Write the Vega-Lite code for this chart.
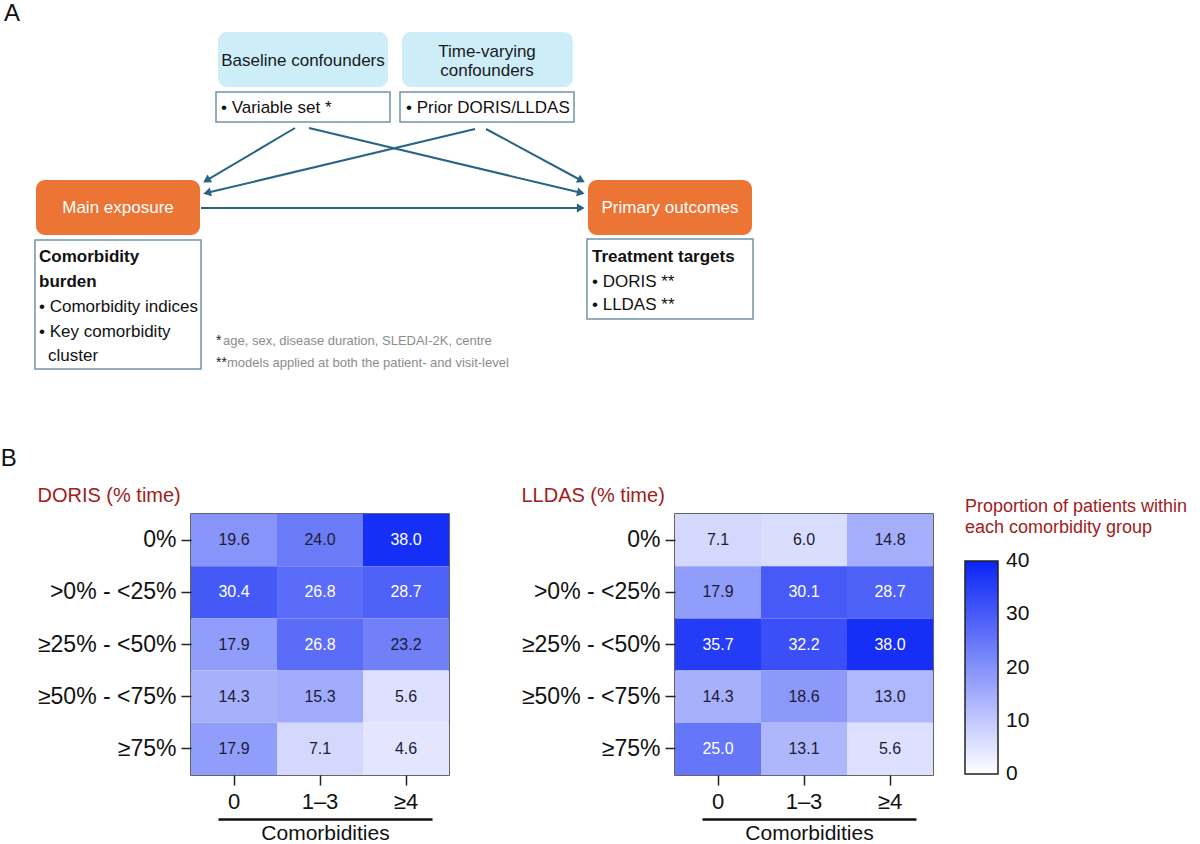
{
  "$schema": "https://vega.github.io/schema/vega-lite/v6.json",
  "padding": 0,
  "background": "white",
  "config": {
    "font": "Liberation Sans",
    "view": {"stroke": null},
    "title": {"fontWeight": "normal"}
  },
  "datasets": {
    "boxes": [
      {"id": "bc", "kind": "blue", "x": 217, "x2": 387, "y": 32, "y2": 87},
      {"id": "tv", "kind": "blue", "x": 401, "x2": 572, "y": 32, "y2": 87},
      {"id": "vs", "kind": "white", "x": 215, "x2": 389, "y": 92, "y2": 122},
      {"id": "pr", "kind": "white", "x": 399, "x2": 573, "y": 92, "y2": 122},
      {"id": "me", "kind": "orange", "x": 35, "x2": 199, "y": 180, "y2": 235},
      {"id": "po", "kind": "orange", "x": 587, "x2": 751, "y": 180, "y2": 235},
      {"id": "cb", "kind": "white", "x": 34, "x2": 200, "y": 240, "y2": 369},
      {"id": "tt", "kind": "white", "x": 586, "x2": 752, "y": 239, "y2": 319}
    ],
    "edges": [
      {"id": "e1", "x": 294, "y": 128, "hx": 205.5, "hy": 180.4},
      {"id": "e2", "x": 308, "y": 128, "hx": 579.9, "hy": 192.8},
      {"id": "e3", "x": 474, "y": 129, "hx": 206.1, "hy": 192.8},
      {"id": "e4", "x": 485, "y": 129, "hx": 580.4, "hy": 180.5},
      {"id": "e5", "x": 200, "y": 208, "hx": 579.8, "hy": 208}
    ],
    "labels": [
      {"kind": "center", "text": "Baseline confounders", "x": 302, "y": 61},
      {"kind": "center", "text": "Time-varying", "x": 486, "y": 52},
      {"kind": "center", "text": "confounders", "x": 486, "y": 71},
      {"kind": "white", "text": "Main exposure", "x": 117, "y": 208},
      {"kind": "white", "text": "Primary outcomes", "x": 669, "y": 208},
      {"kind": "left", "text": "• Variable set *", "x": 220, "y": 108},
      {"kind": "left", "text": "• Prior DORIS/LLDAS", "x": 405, "y": 108},
      {"kind": "bold", "text": "Comorbidity", "x": 38, "y": 257},
      {"kind": "bold", "text": "burden", "x": 38, "y": 282},
      {"kind": "left", "text": "• Comorbidity indices", "x": 38, "y": 307},
      {"kind": "left", "text": "• Key comorbidity", "x": 38, "y": 332},
      {"kind": "left", "text": "cluster", "x": 47, "y": 356},
      {"kind": "bold", "text": "Treatment targets", "x": 591, "y": 257},
      {"kind": "left", "text": "• DORIS **", "x": 591, "y": 282},
      {"kind": "left", "text": "• LLDAS **", "x": 591, "y": 305},
      {"kind": "star", "text": "*", "x": 215, "y": 341},
      {"kind": "note", "text": "age, sex, disease duration, SLEDAI-2K, centre", "x": 222, "y": 341},
      {"kind": "star", "text": "**", "x": 215, "y": 363},
      {"kind": "note", "text": "models applied at both the patient- and visit-level", "x": 226, "y": 363},
      {"kind": "panel", "text": "A", "x": 3, "y": 2}
    ],
    "heat": [
      {"panel": "DORIS", "cat": "0%", "comorb": "0", "value": 19.6},
      {"panel": "DORIS", "cat": "0%", "comorb": "1–3", "value": 24.0},
      {"panel": "DORIS", "cat": "0%", "comorb": "≥4", "value": 38.0},
      {"panel": "DORIS", "cat": ">0% - <25%", "comorb": "0", "value": 30.4},
      {"panel": "DORIS", "cat": ">0% - <25%", "comorb": "1–3", "value": 26.8},
      {"panel": "DORIS", "cat": ">0% - <25%", "comorb": "≥4", "value": 28.7},
      {"panel": "DORIS", "cat": "≥25% - <50%", "comorb": "0", "value": 17.9},
      {"panel": "DORIS", "cat": "≥25% - <50%", "comorb": "1–3", "value": 26.8},
      {"panel": "DORIS", "cat": "≥25% - <50%", "comorb": "≥4", "value": 23.2},
      {"panel": "DORIS", "cat": "≥50% - <75%", "comorb": "0", "value": 14.3},
      {"panel": "DORIS", "cat": "≥50% - <75%", "comorb": "1–3", "value": 15.3},
      {"panel": "DORIS", "cat": "≥50% - <75%", "comorb": "≥4", "value": 5.6},
      {"panel": "DORIS", "cat": "≥75%", "comorb": "0", "value": 17.9},
      {"panel": "DORIS", "cat": "≥75%", "comorb": "1–3", "value": 7.1},
      {"panel": "DORIS", "cat": "≥75%", "comorb": "≥4", "value": 4.6},
      {"panel": "LLDAS", "cat": "0%", "comorb": "0", "value": 7.1},
      {"panel": "LLDAS", "cat": "0%", "comorb": "1–3", "value": 6.0},
      {"panel": "LLDAS", "cat": "0%", "comorb": "≥4", "value": 14.8},
      {"panel": "LLDAS", "cat": ">0% - <25%", "comorb": "0", "value": 17.9},
      {"panel": "LLDAS", "cat": ">0% - <25%", "comorb": "1–3", "value": 30.1},
      {"panel": "LLDAS", "cat": ">0% - <25%", "comorb": "≥4", "value": 28.7},
      {"panel": "LLDAS", "cat": "≥25% - <50%", "comorb": "0", "value": 35.7},
      {"panel": "LLDAS", "cat": "≥25% - <50%", "comorb": "1–3", "value": 32.2},
      {"panel": "LLDAS", "cat": "≥25% - <50%", "comorb": "≥4", "value": 38.0},
      {"panel": "LLDAS", "cat": "≥50% - <75%", "comorb": "0", "value": 14.3},
      {"panel": "LLDAS", "cat": "≥50% - <75%", "comorb": "1–3", "value": 18.6},
      {"panel": "LLDAS", "cat": "≥50% - <75%", "comorb": "≥4", "value": 13.0},
      {"panel": "LLDAS", "cat": "≥75%", "comorb": "0", "value": 25.0},
      {"panel": "LLDAS", "cat": "≥75%", "comorb": "1–3", "value": 13.1},
      {"panel": "LLDAS", "cat": "≥75%", "comorb": "≥4", "value": 5.6}
    ]
  },
  "spacing": 7,
  "resolve": {"scale": {"color": "independent"}, "legend": {"color": "independent"}},
  "vconcat": [
    {
      "width": 1010,
      "height": 440,
      "view": {"stroke": null},
      "encoding": {
        "x": {"field": "x", "type": "quantitative", "scale": {"domain": [190, 1200], "nice": false, "zero": false}, "axis": null},
        "y": {"field": "y", "type": "quantitative", "scale": {"domain": [0, 440], "nice": false, "zero": false, "reverse": true}, "axis": null}
      },
      "layer": [
        {
          "data": {"name": "boxes"},
          "transform": [{"filter": "datum.kind == 'blue'"}],
          "mark": {"type": "rect", "fill": "#cdedf9", "cornerRadius": 9},
          "encoding": {"x2": {"field": "x2"}, "y2": {"field": "y2"}}
        },
        {
          "data": {"name": "boxes"},
          "transform": [{"filter": "datum.kind == 'orange'"}],
          "mark": {"type": "rect", "fill": "#ec7434", "cornerRadius": 9},
          "encoding": {"x2": {"field": "x2"}, "y2": {"field": "y2"}}
        },
        {
          "data": {"name": "boxes"},
          "transform": [{"filter": "datum.kind == 'white'"}],
          "mark": {"type": "rect", "fill": "white", "stroke": "#7194a8", "strokeWidth": 1.5},
          "encoding": {"x2": {"field": "x2"}, "y2": {"field": "y2"}}
        },
        {
          "data": {"name": "edges"},
          "mark": {"type": "rule", "color": "#2a6485", "strokeWidth": 2},
          "encoding": {"x2": {"field": "hx"}, "y2": {"field": "hy"}}
        },
        {
          "data": {"name": "edges"},
          "transform": [{"filter": "datum.id == 'e1'"}],
          "mark": {"type": "point", "shape": "triangle-up", "filled": true, "opacity": 1, "size": 81, "color": "#2a6485", "angle": 239.4},
          "encoding": {"x": {"field": "hx", "type": "quantitative"}, "y": {"field": "hy", "type": "quantitative"}}
        },
        {
          "data": {"name": "edges"},
          "transform": [{"filter": "datum.id == 'e2'"}],
          "mark": {"type": "point", "shape": "triangle-up", "filled": true, "opacity": 1, "size": 81, "color": "#2a6485", "angle": 103.4},
          "encoding": {"x": {"field": "hx", "type": "quantitative"}, "y": {"field": "hy", "type": "quantitative"}}
        },
        {
          "data": {"name": "edges"},
          "transform": [{"filter": "datum.id == 'e3'"}],
          "mark": {"type": "point", "shape": "triangle-up", "filled": true, "opacity": 1, "size": 81, "color": "#2a6485", "angle": 256.6},
          "encoding": {"x": {"field": "hx", "type": "quantitative"}, "y": {"field": "hy", "type": "quantitative"}}
        },
        {
          "data": {"name": "edges"},
          "transform": [{"filter": "datum.id == 'e4'"}],
          "mark": {"type": "point", "shape": "triangle-up", "filled": true, "opacity": 1, "size": 81, "color": "#2a6485", "angle": 118.4},
          "encoding": {"x": {"field": "hx", "type": "quantitative"}, "y": {"field": "hy", "type": "quantitative"}}
        },
        {
          "data": {"name": "edges"},
          "transform": [{"filter": "datum.id == 'e5'"}],
          "mark": {"type": "point", "shape": "triangle-up", "filled": true, "opacity": 1, "size": 81, "color": "#2a6485", "angle": 90},
          "encoding": {"x": {"field": "hx", "type": "quantitative"}, "y": {"field": "hy", "type": "quantitative"}}
        },
        {
          "data": {"name": "labels"},
          "transform": [{"filter": "datum.kind == 'center'"}],
          "mark": {"type": "text", "align": "center", "baseline": "middle", "fontSize": 17, "color": "#1a1a1a"},
          "encoding": {"text": {"field": "text"}}
        },
        {
          "data": {"name": "labels"},
          "transform": [{"filter": "datum.kind == 'white'"}],
          "mark": {"type": "text", "align": "center", "baseline": "middle", "fontSize": 17, "color": "white"},
          "encoding": {"text": {"field": "text"}}
        },
        {
          "data": {"name": "labels"},
          "transform": [{"filter": "datum.kind == 'left'"}],
          "mark": {"type": "text", "align": "left", "baseline": "middle", "fontSize": 17, "color": "#111111"},
          "encoding": {"text": {"field": "text"}}
        },
        {
          "data": {"name": "labels"},
          "transform": [{"filter": "datum.kind == 'bold'"}],
          "mark": {"type": "text", "align": "left", "baseline": "middle", "fontSize": 17, "fontWeight": "bold", "color": "#111111"},
          "encoding": {"text": {"field": "text"}}
        },
        {
          "data": {"name": "labels"},
          "transform": [{"filter": "datum.kind == 'star'"}],
          "mark": {"type": "text", "align": "left", "baseline": "middle", "fontSize": 14, "color": "#222222"},
          "encoding": {"text": {"field": "text"}}
        },
        {
          "data": {"name": "labels"},
          "transform": [{"filter": "datum.kind == 'note'"}],
          "mark": {"type": "text", "align": "left", "baseline": "middle", "fontSize": 13, "color": "#8c8c8c"},
          "encoding": {"text": {"field": "text"}}
        },
        {
          "data": {"name": "labels"},
          "transform": [{"filter": "datum.kind == 'panel'"}],
          "mark": {"type": "text", "align": "left", "baseline": "top", "fontSize": 24, "color": "#111111"},
          "encoding": {"text": {"field": "text"}}
        }
      ]
    },
    {
      "title": {"text": "B", "anchor": "start", "frame": "bounds", "fontSize": 24, "fontWeight": "normal", "color": "#111111", "dx": -36, "offset": 14},
      "spacing": 70,
      "hconcat": [
        {
          "data": {"name": "heat"},
          "transform": [{"filter": "datum.panel == 'DORIS'"}],
          "title": {"text": "DORIS (% time)", "anchor": "start", "frame": "bounds", "fontSize": 20, "fontWeight": "normal", "color": "#a02020", "offset": 8},
          "width": 258,
          "height": 261,
          "view": {"stroke": "#333333", "strokeWidth": 1.5},
          "layer": [
            {
              "encoding": {
                "x": {"field": "comorb", "type": "nominal", "sort": ["0", "1–3", "≥4"], "scale": {"paddingInner": 0, "paddingOuter": 0},
                  "axis": {"title": null, "labelAngle": 0, "labelFontSize": 22, "labelColor": "#111111", "tickSize": 10, "tickColor": "#222222", "tickWidth": 1.5, "domain": false, "labelPadding": 6}},
                "y": {"field": "cat", "type": "nominal", "sort": ["0%", ">0% - <25%", "≥25% - <50%", "≥50% - <75%", "≥75%"], "scale": {"paddingInner": 0, "paddingOuter": 0},
                  "axis": {"title": null, "labelFontSize": 23, "labelColor": "#111111", "tickSize": 10, "tickColor": "#222222", "tickWidth": 1.5, "domain": false, "labelPadding": 5, "labelLimit": 300}}
              },
              "layer": [
                {
                  "mark": {"type": "rect"},
                  "encoding": {
                    "color": {"field": "value", "type": "quantitative", "scale": {"domain": [0, 40], "range": ["#ffffff", "#0a24f5"], "interpolate": "rgb"},
                      "legend": {"orient": "none", "legendX": 774, "legendY": -16, "title": ["Proportion of patients within", "each comorbidity group"], "titleFontSize": 18, "titleFontWeight": "normal", "titleColor": "#a02020", "titleLimit": 400, "titleLineHeight": 21, "titlePadding": 24, "gradientLength": 213, "gradientThickness": 33, "gradientStrokeColor": "#222222", "gradientStrokeWidth": 1.5, "labelFontSize": 21, "labelColor": "#111111", "labelBaseline": "middle", "values": [0, 10, 20, 30, 40], "direction": "vertical", "labelOffset": 8,
                        "encode": {"labels": {"update": {"baseline": {"value": "middle"}}}}}}
                  }
                },
                {
                  "mark": {"type": "text", "fontSize": 16},
                  "encoding": {
                    "text": {"field": "value", "type": "quantitative", "format": ".1f"},
                    "color": {"condition": {"test": "datum.value > 24.5", "value": "white"}, "value": "#1c1c36"}
                  }
                }
              ]
            },
            {
              "mark": {"type": "rule", "opacity": 0},
              "encoding": {
                "x": {"datum": 0, "type": "quantitative", "scale": {"domain": [0, 1], "range": [27, 241], "nice": false, "zero": false},
                  "axis": {"orient": "bottom", "offset": 44, "domain": true, "domainColor": "#111111", "domainWidth": 2.5, "ticks": false, "labels": false, "grid": false, "title": "Comorbidities", "titleFontSize": 21, "titleFontWeight": "normal", "titleColor": "#111111", "titlePadding": 3}}
              }
            }
          ],
          "resolve": {"scale": {"x": "independent"}, "axis": {"x": "independent"}}
        },
        {
          "data": {"name": "heat"},
          "transform": [{"filter": "datum.panel == 'LLDAS'"}],
          "title": {"text": "LLDAS (% time)", "anchor": "start", "frame": "bounds", "fontSize": 20, "fontWeight": "normal", "color": "#a02020", "offset": 8},
          "width": 258,
          "height": 261,
          "view": {"stroke": "#333333", "strokeWidth": 1.5},
          "layer": [
            {
              "encoding": {
                "x": {"field": "comorb", "type": "nominal", "sort": ["0", "1–3", "≥4"], "scale": {"paddingInner": 0, "paddingOuter": 0},
                  "axis": {"title": null, "labelAngle": 0, "labelFontSize": 22, "labelColor": "#111111", "tickSize": 10, "tickColor": "#222222", "tickWidth": 1.5, "domain": false, "labelPadding": 6}},
                "y": {"field": "cat", "type": "nominal", "sort": ["0%", ">0% - <25%", "≥25% - <50%", "≥50% - <75%", "≥75%"], "scale": {"paddingInner": 0, "paddingOuter": 0},
                  "axis": {"title": null, "labelFontSize": 23, "labelColor": "#111111", "tickSize": 10, "tickColor": "#222222", "tickWidth": 1.5, "domain": false, "labelPadding": 5, "labelLimit": 300}}
              },
              "layer": [
                {
                  "mark": {"type": "rect"},
                  "encoding": {
                    "color": {"field": "value", "type": "quantitative", "scale": {"domain": [0, 40], "range": ["#ffffff", "#0a24f5"], "interpolate": "rgb"},
                      "legend": {"orient": "none", "legendX": 774, "legendY": -16, "title": ["Proportion of patients within", "each comorbidity group"], "titleFontSize": 18, "titleFontWeight": "normal", "titleColor": "#a02020", "titleLimit": 400, "titleLineHeight": 21, "titlePadding": 24, "gradientLength": 213, "gradientThickness": 33, "gradientStrokeColor": "#222222", "gradientStrokeWidth": 1.5, "labelFontSize": 21, "labelColor": "#111111", "labelBaseline": "middle", "values": [0, 10, 20, 30, 40], "direction": "vertical", "labelOffset": 8,
                        "encode": {"labels": {"update": {"baseline": {"value": "middle"}}}}}}
                  }
                },
                {
                  "mark": {"type": "text", "fontSize": 16},
                  "encoding": {
                    "text": {"field": "value", "type": "quantitative", "format": ".1f"},
                    "color": {"condition": {"test": "datum.value > 24.5", "value": "white"}, "value": "#1c1c36"}
                  }
                }
              ]
            },
            {
              "mark": {"type": "rule", "opacity": 0},
              "encoding": {
                "x": {"datum": 0, "type": "quantitative", "scale": {"domain": [0, 1], "range": [27, 241], "nice": false, "zero": false},
                  "axis": {"orient": "bottom", "offset": 44, "domain": true, "domainColor": "#111111", "domainWidth": 2.5, "ticks": false, "labels": false, "grid": false, "title": "Comorbidities", "titleFontSize": 21, "titleFontWeight": "normal", "titleColor": "#111111", "titlePadding": 3}}
              }
            }
          ],
          "resolve": {"scale": {"x": "independent"}, "axis": {"x": "independent"}}
        }
      ]
    }
  ]
}
